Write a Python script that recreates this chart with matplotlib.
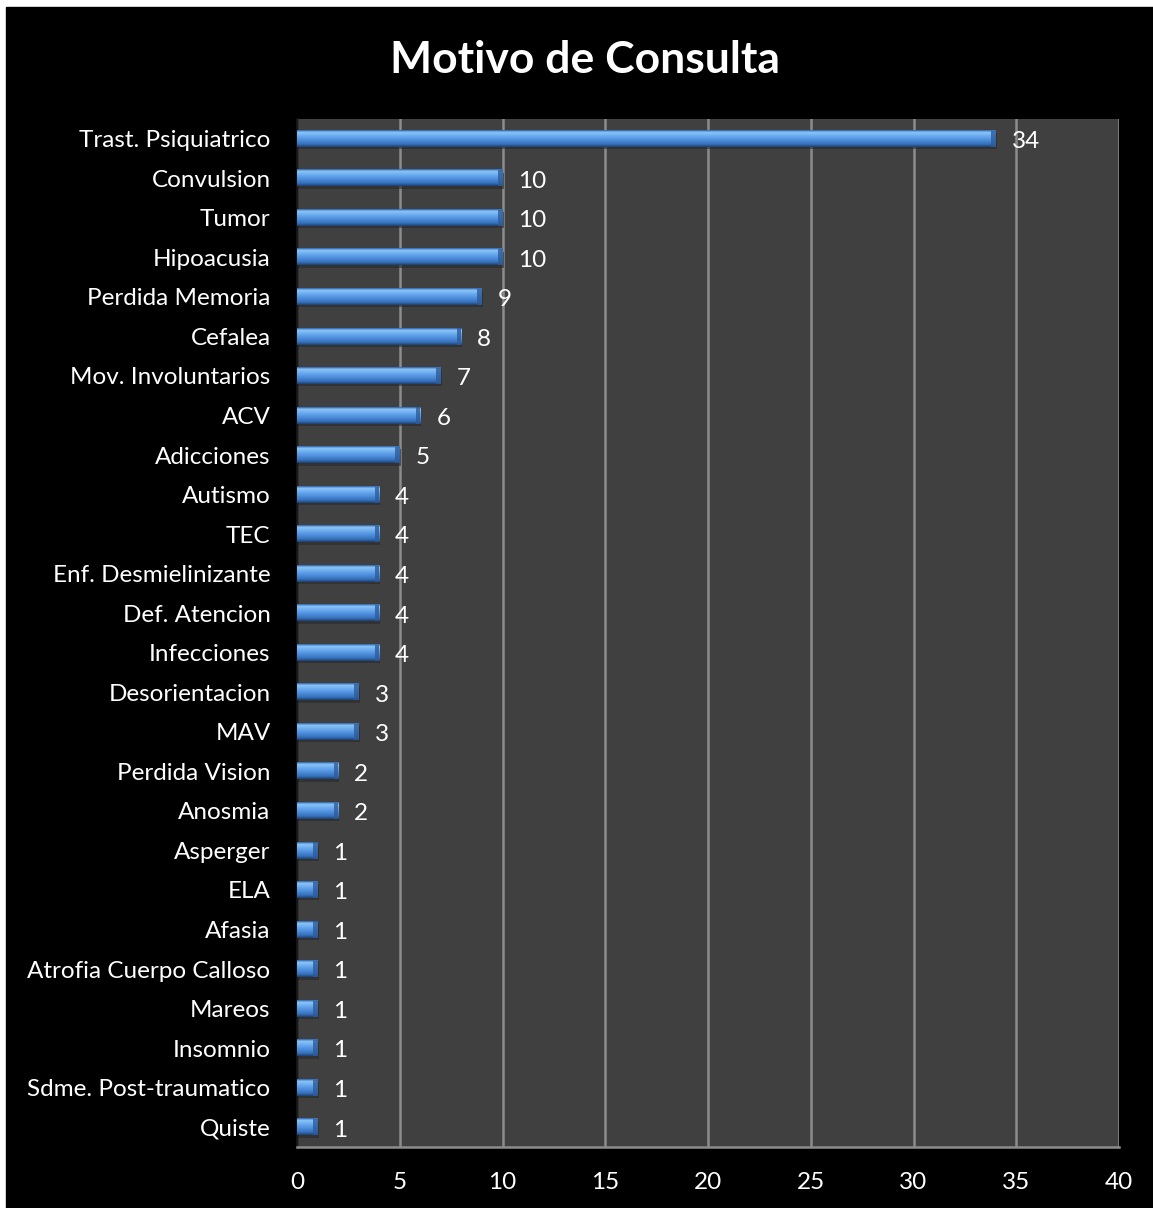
import numpy as np
import matplotlib.pyplot as plt
from matplotlib.patches import Rectangle
from matplotlib.colors import LinearSegmentedColormap

categorias = ['Trast. Psiquiatrico', 'Convulsion', 'Tumor', 'Hipoacusia',
              'Perdida Memoria', 'Cefalea', 'Mov. Involuntarios', 'ACV',
              'Adicciones', 'Autismo', 'TEC', 'Enf. Desmielinizante',
              'Def. Atencion', 'Infecciones', 'Desorientacion', 'MAV',
              'Perdida Vision', 'Anosmia', 'Asperger', 'ELA', 'Afasia',
              'Atrofia Cuerpo Calloso', 'Mareos', 'Insomnio',
              'Sdme. Post-traumatico', 'Quiste']
valores = [34, 10, 10, 10, 9, 8, 7, 6, 5, 4, 4, 4, 4, 4, 3, 3, 2, 2,
           1, 1, 1, 1, 1, 1, 1, 1]
xticks = [0, 5, 10, 15, 20, 25, 30, 35, 40]

plt.rcParams['font.family'] = ['Lato', 'DejaVu Sans']

fig = plt.figure(figsize=(11.53, 12.08), dpi=100, facecolor='white')
fig.patches.append(Rectangle((6 / 1153, 0), 1.01, 1 - 7 / 1208,
                             transform=fig.transFigure, color='black', zorder=-10))

W, H = 1153, 1208
left, right, top, bottom = 297, 1119, 119, 1147
ax = fig.add_axes([left / W, 1 - bottom / H, (right - left) / W, (bottom - top) / H])
ax.set_facecolor('#404040')

# vertical gradient for the bevelled bars (top of image = top of bar)
grad = LinearSegmentedColormap.from_list('bevel', [
    (0.0, '#2a5fa8'), (0.12, '#8cc4f7'), (0.35, '#6aaaf0'),
    (0.6, '#4d8ddb'), (0.85, '#356fb8'), (1.0, '#1c3f70')])
g = np.linspace(0, 1, 64).reshape(-1, 1)

h = 0.41
y = list(range(len(categorias)))
for yi, v in zip(y, valores):
    # shadow
    ax.add_patch(Rectangle((0.05, yi - h / 2 + 0.06), v, h, color='#2a2a2a',
                           alpha=0.6, zorder=2, lw=0))
    ax.imshow(g, cmap=grad, aspect='auto', extent=[0, v, yi + h / 2, yi - h / 2],
              zorder=3, interpolation='bilinear')
    # darker bevelled end
    ax.add_patch(Rectangle((v - 0.22, yi - h / 2), 0.22, h, color='#2d5c9a',
                           alpha=0.8, zorder=4, lw=0))
    ax.annotate(str(v), (v, yi), xytext=(11.5, -2), textcoords='offset points',
                ha='left', va='center', color='white', fontsize=17.5, zorder=6)

ax.set_xlim(0, 40)
ax.set_ylim(len(categorias) - 0.5, -0.5)
ax.set_xticks(xticks)
ax.set_yticks(y)
ax.set_yticklabels(categorias)
ax.xaxis.grid(True, color='#8c8c8c', linewidth=1.8, zorder=1)
ax.set_axisbelow(True)
ax.tick_params(axis='both', colors='white', labelsize=17.5, length=0)
ax.tick_params(axis='y', pad=19)
ax.tick_params(axis='x', pad=18)
for s in ['top', 'right']:
    ax.spines[s].set_visible(False)
ax.spines['left'].set_color('#1a1a1a')
ax.spines['bottom'].set_color('#8c8c8c')
for s in ['left', 'bottom']:
    ax.spines[s].set_linewidth(1.8)

fig.text(585 / W, 1 - 60 / H, 'Motivo de Consulta', ha='center', va='center',
         color='white', fontsize=32, fontweight='bold')

fig.savefig('out.png', dpi=100, facecolor=fig.get_facecolor())
